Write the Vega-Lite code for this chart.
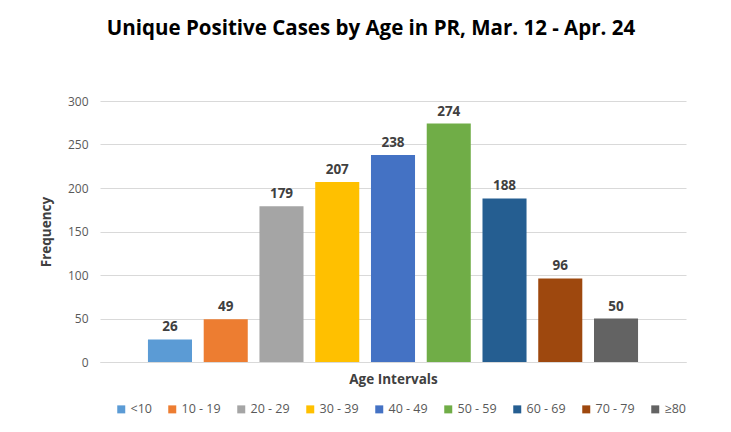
{
  "$schema": "https://vega.github.io/schema/vega-lite/v6.json",
  "width": 586,
  "height": 261,
  "autosize": {"type": "none"},
  "padding": {"left": 100, "top": 101, "right": 45, "bottom": 70},
  "background": "white",
  "title": {
    "text": "Unique Positive Cases by Age in PR, Mar. 12 - Apr. 24",
    "font": "Open Sans",
    "fontSize": 20.5,
    "fontWeight": "bold",
    "color": "#000000",
    "offset": 56,
    "dx": -22
  },
  "data": {
    "values": [
      {"age": "<10", "count": 26},
      {"age": "10 - 19", "count": 49},
      {"age": "20 - 29", "count": 179},
      {"age": "30 - 39", "count": 207},
      {"age": "40 - 49", "count": 238},
      {"age": "50 - 59", "count": 274},
      {"age": "60 - 69", "count": 188},
      {"age": "70 - 79", "count": 96},
      {"age": "≥80", "count": 50}
    ]
  },
  "encoding": {
    "x": {
      "field": "age",
      "type": "nominal",
      "sort": null,
      "scale": {"paddingInner": 0.21, "paddingOuter": 0.86},
      "axis": {
        "title": "Age Intervals",
        "labels": false,
        "ticks": false,
        "domainColor": "#D9D9D9",
        "titleFont": "Open Sans",
        "titleFontSize": 13.5,
        "titleFontWeight": "bold",
        "titleColor": "#404040",
        "titlePadding": 10
      }
    },
    "y": {
      "field": "count",
      "type": "quantitative",
      "scale": {"domain": [0, 300]},
      "axis": {
        "title": "Frequency",
        "values": [0, 50, 100, 150, 200, 250, 300],
        "domain": false,
        "ticks": false,
        "gridColor": "#D9D9D9",
        "labelFont": "Open Sans",
        "labelFontSize": 12,
        "labelColor": "#595959",
        "labelPadding": 12,
        "titleFont": "Open Sans",
        "titleFontSize": 13.5,
        "titleFontWeight": "bold",
        "titleColor": "#404040",
        "titlePadding": 14
      }
    }
  },
  "layer": [
    {
      "mark": {"type": "bar"},
      "encoding": {
        "color": {
          "field": "age",
          "type": "nominal",
          "sort": null,
          "scale": {
            "domain": ["<10", "10 - 19", "20 - 29", "30 - 39", "40 - 49", "50 - 59", "60 - 69", "70 - 79", "≥80"],
            "range": ["#5B9BD5", "#ED7D31", "#A5A5A5", "#FFC000", "#4472C4", "#70AD47", "#255E91", "#9E480E", "#636363"]
          },
          "legend": {
            "title": null,
            "orient": "none",
            "direction": "horizontal",
            "legendX": 15,
            "legendY": 302,
            "symbolType": "square",
            "symbolSize": 64,
            "symbolStrokeWidth": 0,
            "labelFont": "Open Sans",
            "labelFontSize": 12.5,
            "labelColor": "#595959",
            "labelOffset": 3,
            "columnPadding": 14
          }
        }
      }
    },
    {
      "mark": {
        "type": "text",
        "dy": -12,
        "font": "Open Sans",
        "fontSize": 13.5,
        "fontWeight": "bold",
        "color": "#404040"
      },
      "encoding": {"text": {"field": "count", "type": "quantitative"}}
    }
  ],
  "config": {"view": {"stroke": null}}
}
